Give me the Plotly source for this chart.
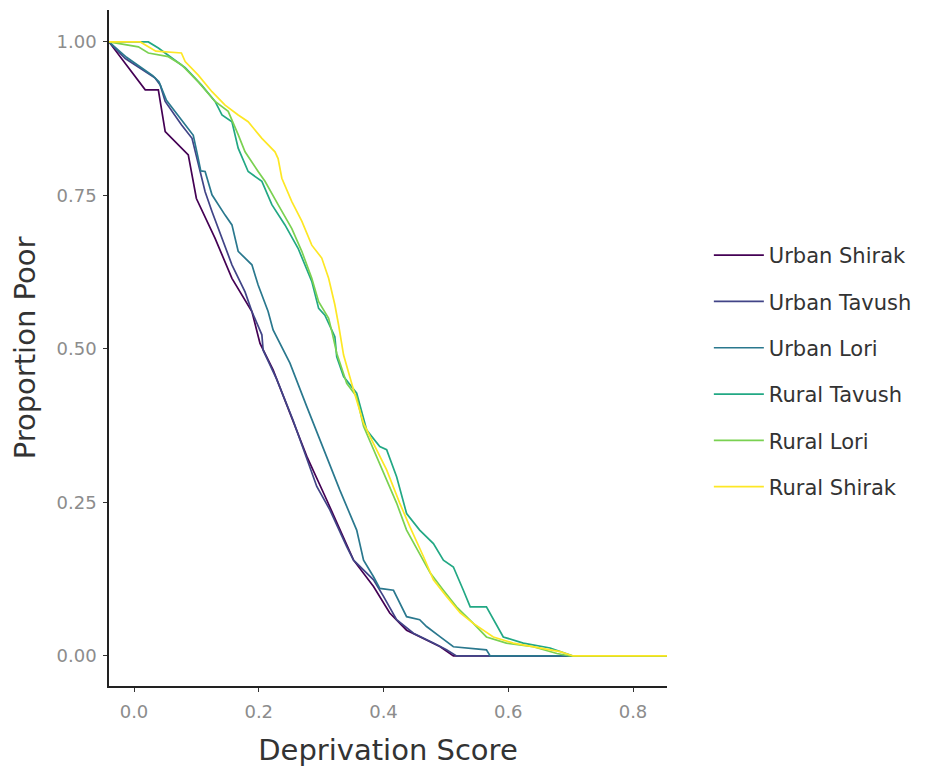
import plotly.graph_objects as go

# Survival-style curves: share of households still "poor" at each deprivation cutoff
series_names = ["Urban Shirak", "Urban Tavush", "Urban Lori",
                "Rural Tavush", "Rural Lori", "Rural Shirak"]
series_colors = ["#440154", "#414487", "#2A788E", "#22A884", "#7AD151", "#FDE725"]

urban_shirak_x = [0.018, 0.039, 0.050, 0.087, 0.100, 0.130, 0.157, 0.189, 0.202, 0.223,
                  0.250, 0.277, 0.309, 0.330, 0.352, 0.384, 0.410, 0.437, 0.469, 0.491, 0.512]
urban_shirak_y = [0.922, 0.922, 0.854, 0.816, 0.745, 0.680, 0.615, 0.561, 0.509, 0.466,
                  0.395, 0.325, 0.254, 0.205, 0.156, 0.113, 0.070, 0.042, 0.026, 0.015, 0.0]

urban_tavush_x = [-0.014, 0.034, 0.042, 0.050, 0.076, 0.093, 0.103, 0.114, 0.125, 0.141,
                  0.157, 0.178, 0.189, 0.205, 0.207, 0.229, 0.255, 0.293, 0.314, 0.341,
                  0.352, 0.384, 0.400, 0.421, 0.448, 0.480, 0.501, 0.517]
urban_tavush_y = [0.973, 0.941, 0.930, 0.903, 0.865, 0.843, 0.800, 0.756, 0.724, 0.680,
                  0.637, 0.593, 0.561, 0.523, 0.498, 0.450, 0.384, 0.276, 0.238, 0.178,
                  0.156, 0.124, 0.097, 0.059, 0.037, 0.021, 0.010, 0.0]

urban_lori_x = [-0.012, 0.030, 0.040, 0.052, 0.078, 0.095, 0.103, 0.107, 0.114, 0.125,
                0.146, 0.157, 0.167, 0.189, 0.199, 0.215, 0.223, 0.250, 0.277, 0.304,
                0.330, 0.357, 0.368, 0.384, 0.394, 0.416, 0.437, 0.458, 0.469, 0.491,
                0.512, 0.565, 0.571]
urban_lori_y = [0.975, 0.945, 0.935, 0.905, 0.870, 0.848, 0.810, 0.790, 0.789, 0.751,
                0.718, 0.702, 0.659, 0.637, 0.604, 0.561, 0.531, 0.477, 0.406, 0.336,
                0.270, 0.205, 0.156, 0.129, 0.110, 0.107, 0.064, 0.059, 0.048, 0.031,
                0.015, 0.010, 0.0]

rural_tavush_x = [0.023, 0.039, 0.060, 0.082, 0.108, 0.130, 0.141, 0.157, 0.167, 0.183,
                  0.205, 0.221, 0.242, 0.263, 0.285, 0.296, 0.306, 0.322, 0.325, 0.336,
                  0.357, 0.373, 0.394, 0.405, 0.421, 0.437, 0.458, 0.480, 0.496, 0.512,
                  0.528, 0.539, 0.565, 0.592, 0.624, 0.667, 0.704]
rural_tavush_y = [1.0, 0.990, 0.974, 0.958, 0.930, 0.903, 0.881, 0.870, 0.827, 0.789,
                  0.773, 0.735, 0.702, 0.664, 0.610, 0.566, 0.555, 0.520, 0.487, 0.455,
                  0.428, 0.368, 0.341, 0.336, 0.292, 0.232, 0.205, 0.183, 0.156, 0.145,
                  0.107, 0.080, 0.080, 0.031, 0.021, 0.013, 0.0]

rural_lori_x = [0.007, 0.023, 0.055, 0.076, 0.103, 0.130, 0.151, 0.167, 0.178, 0.199,
                0.210, 0.231, 0.253, 0.269, 0.285, 0.296, 0.312, 0.318, 0.325, 0.341,
                0.357, 0.368, 0.384, 0.400, 0.421, 0.437, 0.458, 0.475, 0.496, 0.517,
                0.544, 0.565, 0.597, 0.640, 0.678, 0.699]
rural_lori_y = [0.992, 0.982, 0.976, 0.963, 0.935, 0.903, 0.887, 0.849, 0.821, 0.789,
                0.773, 0.735, 0.696, 0.659, 0.615, 0.577, 0.550, 0.525, 0.493, 0.444,
                0.422, 0.374, 0.336, 0.298, 0.249, 0.205, 0.167, 0.135, 0.107, 0.080,
                0.053, 0.031, 0.021, 0.015, 0.004, 0.0]

rural_shirak_x = [0.010, 0.035, 0.076, 0.082, 0.103, 0.125, 0.146, 0.167, 0.183, 0.205,
                  0.226, 0.231, 0.237, 0.253, 0.269, 0.285, 0.301, 0.312, 0.322, 0.328,
                  0.336, 0.352, 0.368, 0.384, 0.405, 0.426, 0.442, 0.464, 0.480, 0.501,
                  0.523, 0.544, 0.576, 0.608, 0.651, 0.683, 0.704]
rural_shirak_y = [1.0, 0.985, 0.982, 0.968, 0.946, 0.919, 0.897, 0.881, 0.870, 0.843,
                  0.821, 0.810, 0.778, 0.740, 0.708, 0.669, 0.648, 0.615, 0.572, 0.539,
                  0.490, 0.433, 0.379, 0.346, 0.303, 0.249, 0.211, 0.162, 0.124, 0.097,
                  0.070, 0.053, 0.031, 0.021, 0.013, 0.007, 0.0]

series_x = [urban_shirak_x, urban_tavush_x, urban_lori_x,
            rural_tavush_x, rural_lori_x, rural_shirak_x]
series_y = [urban_shirak_y, urban_tavush_y, urban_lori_y,
            rural_tavush_y, rural_lori_y, rural_shirak_y]

x_ticks = [0.0, 0.2, 0.4, 0.6, 0.8]
x_tick_text = ["0.0", "0.2", "0.4", "0.6", "0.8"]
y_ticks = [0.0, 0.25, 0.5, 0.75, 1.0]
y_tick_text = ["0.00", "0.25", "0.50", "0.75", "1.00"]

X_RANGE = [-0.0401, 0.8545]
Y_RANGE = [-0.0489, 1.052]

FONT = "DejaVu Sans"

fig = go.Figure()
for name, color, xs, ys in zip(series_names, series_colors, series_x, series_y):
    # pad each curve out to the panel edges, as an ECDF with infinite padding would
    px = [X_RANGE[0]] + list(xs) + [X_RANGE[1]]
    py = [1.0] + list(ys) + [0.0]
    fig.add_trace(go.Scatter(
        x=px, y=py, mode="lines", name=name, legendgroup=name,
        line=dict(color=color, width=1.7),
    ))

axis_common = dict(
    showgrid=False, zeroline=False, showline=True, linecolor="#222222", linewidth=1.5,
    ticks="outside", ticklen=4, tickwidth=1.2, tickcolor="#333333",
    tickfont=dict(family=FONT, size=18, color="#8c8c8c"),
    automargin=False,
)

fig.update_xaxes(range=X_RANGE, tickvals=x_ticks, ticktext=x_tick_text,
                 ticklabelstandoff=5,
                 title=dict(text="Deprivation Score", font=dict(family=FONT, size=29, color="#333333"),
                            standoff=18),
                 **axis_common)
fig.update_yaxes(range=Y_RANGE, tickvals=y_ticks, ticktext=y_tick_text,
                 ticklabelstandoff=3,
                 title=dict(text="Proportion Poor", font=dict(family=FONT, size=29, color="#333333"),
                            standoff=12),
                 **axis_common)

fig.update_layout(
    width=935, height=767,
    margin=dict(l=109, r=268, t=10, b=81),
    plot_bgcolor="white", paper_bgcolor="white",
    showlegend=True,
    legend=dict(
        x=1.075, y=0.466, xanchor="left", yanchor="middle",
        font=dict(family=FONT, size=21, color="#333333"),
        itemwidth=50, tracegroupgap=16, bgcolor="rgba(0,0,0,0)",
    ),
)

fig.write_html("out.html")
